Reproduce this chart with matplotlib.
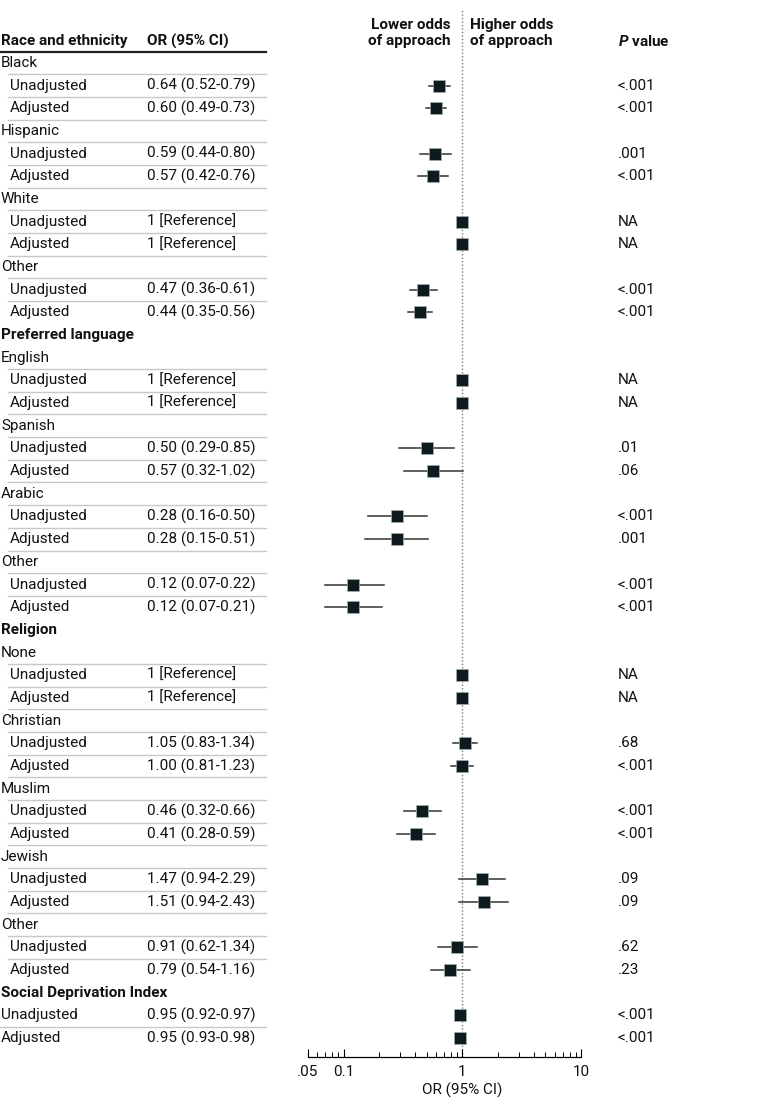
import numpy as np
import matplotlib
matplotlib.use("Agg")
import matplotlib.pyplot as plt
from matplotlib.ticker import FixedLocator, LogLocator, NullFormatter

plt.rcParams["font.family"] = ["Roboto", "DejaVu Sans"]
plt.rcParams["font.size"] = 11
plt.rcParams["mathtext.fontset"] = "custom"
plt.rcParams["mathtext.it"] = "Roboto:italic:bold"
plt.rcParams["mathtext.rm"] = "Roboto:bold"

# _______________________________________________________________________________
""" data """

# row kind: "sec" = bold section heading, "grp" = group name, "sub" = indented estimate row, "top" = unindented estimate row
row_kinds = [
    "grp", "sub", "sub", "grp", "sub", "sub", "grp", "sub", "sub", "grp", "sub", "sub",
    "sec", "grp", "sub", "sub", "grp", "sub", "sub", "grp", "sub", "sub", "grp", "sub", "sub",
    "sec", "grp", "sub", "sub", "grp", "sub", "sub", "grp", "sub", "sub", "grp", "sub", "sub", "grp", "sub", "sub",
    "sec", "top", "top",
]
row_labels = [
    "Black", "Unadjusted", "Adjusted", "Hispanic", "Unadjusted", "Adjusted",
    "White", "Unadjusted", "Adjusted", "Other", "Unadjusted", "Adjusted",
    "Preferred language", "English", "Unadjusted", "Adjusted", "Spanish", "Unadjusted", "Adjusted",
    "Arabic", "Unadjusted", "Adjusted", "Other", "Unadjusted", "Adjusted",
    "Religion", "None", "Unadjusted", "Adjusted", "Christian", "Unadjusted", "Adjusted",
    "Muslim", "Unadjusted", "Adjusted", "Jewish", "Unadjusted", "Adjusted", "Other", "Unadjusted", "Adjusted",
    "Social Deprivation Index", "Unadjusted", "Adjusted",
]
# estimates only for "sub"/"top" rows, in order
or_est = [0.64, 0.60, 0.59, 0.57, 1, 1, 0.47, 0.44,
          1, 1, 0.50, 0.57, 0.28, 0.28, 0.12, 0.12,
          1, 1, 1.05, 1.00, 0.46, 0.41, 1.47, 1.51, 0.91, 0.79,
          0.95, 0.95]
ci_lo = [0.52, 0.49, 0.44, 0.42, None, None, 0.36, 0.35,
         None, None, 0.29, 0.32, 0.16, 0.15, 0.07, 0.07,
         None, None, 0.83, 0.81, 0.32, 0.28, 0.94, 0.94, 0.62, 0.54,
         0.92, 0.93]
ci_hi = [0.79, 0.73, 0.80, 0.76, None, None, 0.61, 0.56,
         None, None, 0.85, 1.02, 0.50, 0.51, 0.22, 0.21,
         None, None, 1.34, 1.23, 0.66, 0.59, 2.29, 2.43, 1.34, 1.16,
         0.97, 0.98]
p_values = ["<.001", "<.001", ".001", "<.001", "NA", "NA", "<.001", "<.001",
            "NA", "NA", ".01", ".06", "<.001", ".001", "<.001", "<.001",
            "NA", "NA", ".68", "<.001", "<.001", "<.001", ".09", ".09", ".62", ".23",
            "<.001", "<.001"]

tick_vals = [0.05, 0.1, 1, 10]
tick_labels = [".05", "0.1", "1", "10"]

# _______________________________________________________________________________
""" layout (pixels, figure is 780 x 1119) """

W, H = 780, 1119
axis_y = 1057
row0 = 63
step = (1038 - 63) / 43.0
x_lbl, x_sub, x_or, x_p = 1, 10, 147, 618
line_x0, line_x1 = 8, 266
dark = "#0d1b1e"
sep_color = "#c9c9c0"
txt = "#111111"

fig = plt.figure(figsize=(W / 100, H / 100), dpi=100)
tab = fig.add_axes([0, 0, 1, 1])
tab.set_xlim(0, W)
tab.set_ylim(H, 0)
tab.axis("off")

ax = fig.add_axes([308 / W, (H - axis_y) / H, (581 - 308) / W, axis_y / H])
ax.set_xscale("log")
ax.set_xlim(0.05, 10)
ax.set_ylim(axis_y, 0)
ax.patch.set_alpha(0)

# headers
tab.text(x_lbl, 41, "Race and ethnicity", fontweight="bold", va="center", color=txt)
tab.text(x_or, 41, "OR (95% CI)", fontweight="bold", va="center", color=txt)
tab.plot([0, line_x1], [52, 52], color="#222222", lw=1.6)
tab.text(451, 33, "Lower odds\nof approach", fontweight="bold", ha="right", va="center", linespacing=1.2, color=txt)
tab.text(470, 33, "Higher odds\nof approach", fontweight="bold", ha="left", va="center", linespacing=1.2, color=txt)
tab.text(x_p, 41, r"$\it{P}$ value", fontweight="bold", va="center", color=txt)

ax.axvline(1, ymin=0, ymax=1 - 10 / axis_y, color="#777777", lw=1, linestyle=(0, (1, 1.5)), zorder=1)

k = 0
n = len(row_kinds)
for i, (kind, label) in enumerate(zip(row_kinds, row_labels)):
    y = row0 + i * step
    if kind == "sec":
        tab.text(x_lbl, y, label, fontweight="bold", va="center", color=txt)
    elif kind == "grp":
        tab.text(x_lbl, y, label, va="center", color=txt)
    else:
        xl = x_sub if kind == "sub" else x_lbl
        tab.text(xl, y, label, va="center", color=txt)
        est = or_est[k]
        if ci_lo[k] is None:
            or_text = "1 [Reference]"
        else:
            or_text = "{:.2f} ({:.2f}-{:.2f})".format(est, ci_lo[k], ci_hi[k])
            ax.plot([ci_lo[k], ci_hi[k]], [y, y], color="#333333", lw=1.1, zorder=2)
        tab.text(x_or, y, or_text, va="center", color=txt)
        tab.text(x_p, y, p_values[k], va="center", color=txt)
        ax.plot([est], [y], marker="s", markersize=8.5, color=dark,
                markeredgecolor="#9fb0b0", markeredgewidth=0.5, zorder=3)
        k += 1
    # separator below this row unless the next row starts a new section
    if i + 1 < n and kind != "sec" and row_kinds[i + 1] != "sec":
        ys = y + step / 2
        x0 = line_x0 if kind != "top" else 0
        tab.plot([x0, line_x1], [ys, ys], color=sep_color, lw=1.0)

# axis
for s in ["top", "left", "right"]:
    ax.spines[s].set_visible(False)
ax.spines["bottom"].set_linewidth(0.9)
ax.xaxis.set_major_locator(FixedLocator(tick_vals))
ax.set_xticklabels(tick_labels)
ax.xaxis.set_minor_locator(LogLocator(base=10, subs=np.arange(2, 10)))
ax.xaxis.set_minor_formatter(NullFormatter())
ax.tick_params(axis="x", which="major", direction="in", length=6, width=0.8, labelsize=11, pad=6, labelcolor=txt)
ax.tick_params(axis="x", which="minor", direction="in", length=3.5, width=0.7)
ax.set_yticks([])
ax.text(1, 1090, "OR (95% CI)", ha="center", va="center", clip_on=False, color=txt)

fig.savefig("out.png", dpi=100)
